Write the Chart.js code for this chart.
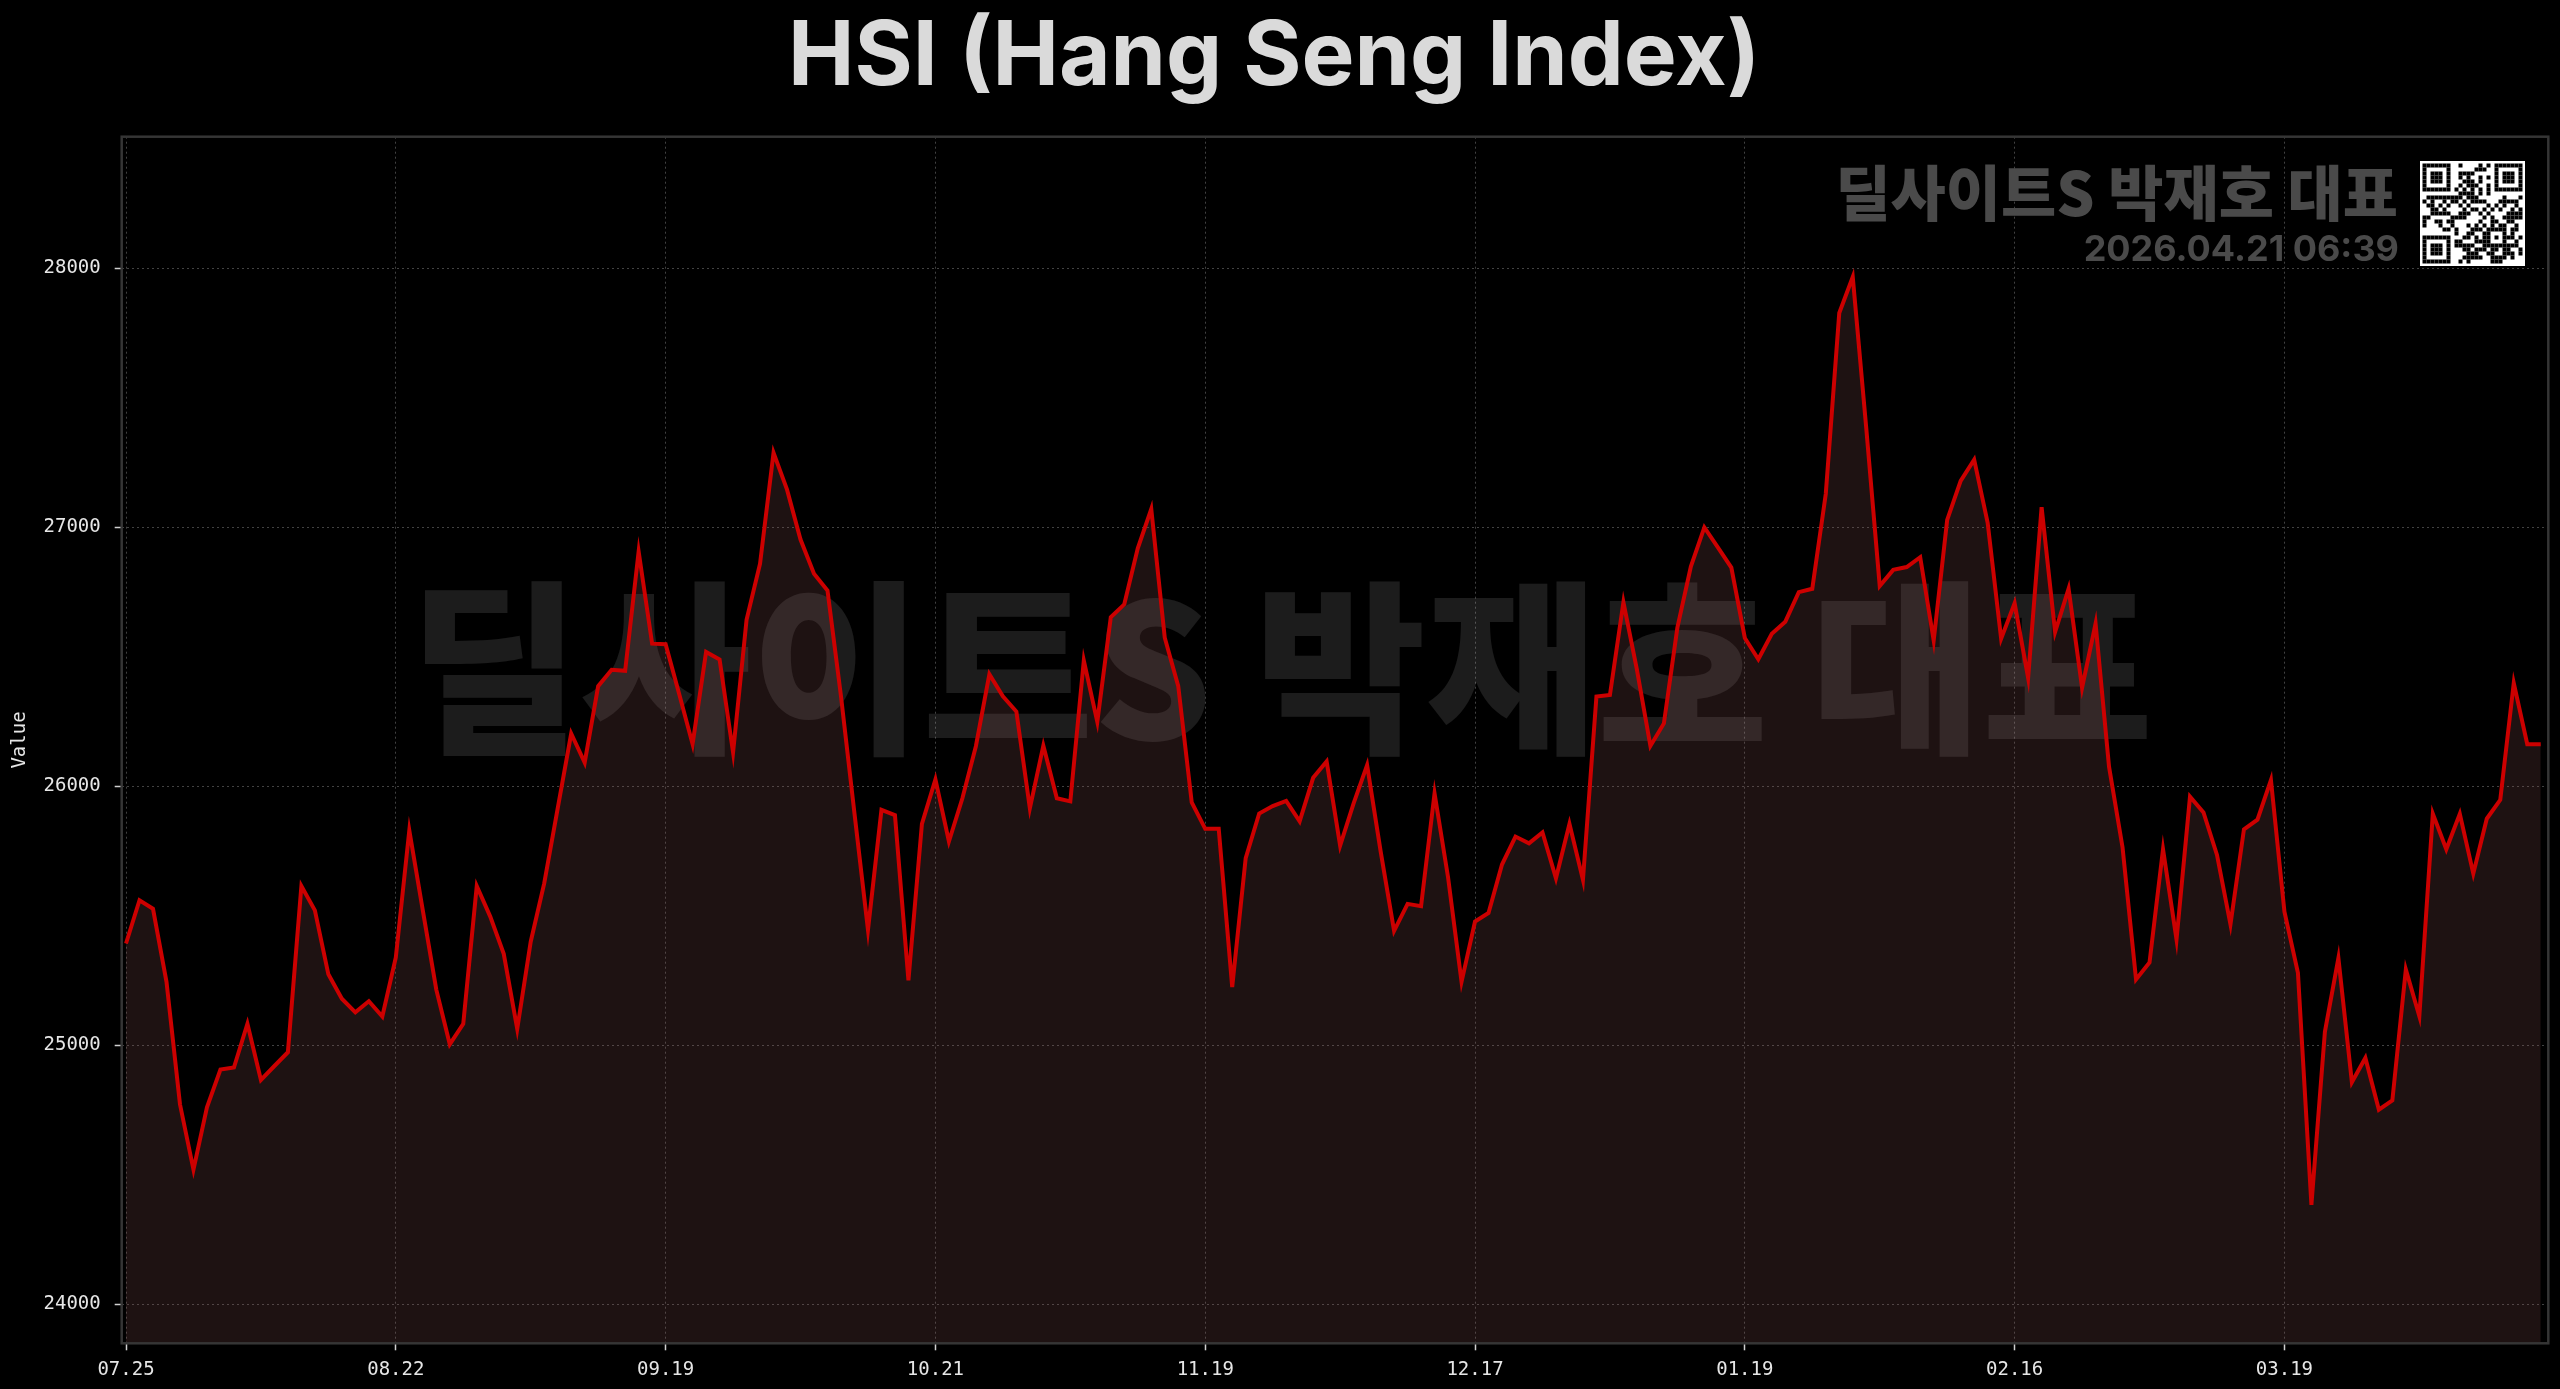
<!DOCTYPE html>
<html>
<head>
<meta charset="utf-8">
<script src="https://cdn.jsdelivr.net/npm/chart.js@4/dist/chart.umd.min.js"></script>
<style>
html,body{margin:0;padding:0;background:#000;overflow:hidden}
#wrap{width:2560px;height:1389px;position:relative}
canvas{display:block}
</style>
</head>
<body>
<div id="wrap"><canvas id="c" width="2560" height="1389"></canvas></div>
<script>
// ---------------- data ----------------
const chartTitle = 'HSI (Hang Seng Index)';
const yAxisTitle = 'Value';
const seriesLabel = 'HSI';
const hsiValues = [
  25393, 25560, 25527, 25245, 24772, 24520, 24760, 24906, 24914, 25083,
  24866, 24920, 24973, 25615, 25521, 25274, 25180, 25127, 25170, 25111,
  25339, 25830, 25521, 25215, 25004, 25083, 25615, 25497, 25353, 25063,
  25400, 25625, 25915, 26204, 26092, 26387, 26450, 26446, 26907, 26551,
  26549, 26358, 26163, 26519, 26490, 26131, 26643, 26860, 27288, 27146,
  26953, 26821, 26756, 26348, 25895, 25446, 25909, 25889, 25251, 25855,
  26027, 25787, 25954, 26155, 26433, 26348, 26289, 25915, 26157, 25954,
  25942, 26486, 26249, 26653, 26703, 26919, 27071, 26574, 26387, 25938,
  25836, 25836, 25225, 25723, 25895, 25924, 25944, 25865, 26033, 26096,
  25771, 25934, 26082, 25750, 25442, 25546, 25537, 25973, 25649, 25245,
  25478, 25511, 25698, 25806, 25780, 25822, 25645, 25855, 25639, 26347,
  26353, 26711, 26451, 26156, 26243, 26613, 26849, 27000, 26923, 26845,
  26573, 26491, 26589, 26636, 26750, 26763, 27129, 27828, 27967, 27384,
  26774, 26836, 26847, 26885, 26563, 27029, 27180, 27262, 27018, 26570,
  26707, 26419, 27078, 26596, 26763, 26381, 26629, 26075, 25764, 25254,
  25320, 25757, 25409, 25960, 25899, 25735, 25467, 25834, 25871, 26024,
  25516, 25280, 24384, 25052, 25337, 24857, 24951, 24751, 24787, 25293,
  25112, 25894, 25757, 25894, 25663, 25875, 25948, 26399, 26163, 26163
];
const xTickIndex  = [0, 20, 40, 60, 80, 100, 120, 140, 160];
const xTickLabels = ['07.25','08.22','09.19','10.21','11.19','12.17','01.19','02.16','03.19'];
const yTickValues = [24000, 25000, 26000, 27000, 28000];
const watermarkText = '딜사이트S 박재호 대표';
const stampText = '2026.04.21 06:39';

// axis ranges
const X_MIN = -0.32, X_MAX = 179.56;
const Y_MIN = 23849, Y_MAX = 28509;

// ---------------- plugins ----------------
const bgPlugin = {
  id: 'bg',
  beforeDraw(chart) {
    const ctx = chart.ctx;
    ctx.save();
    ctx.fillStyle = '#000000';
    ctx.fillRect(0, 0, chart.width, chart.height);
    ctx.restore();
  }
};

const bigWatermark = {
  id: 'bigWatermark',
  beforeDatasetsDraw(chart) {
    const ctx = chart.ctx;
    ctx.save();
    ctx.font = '900 186px "Noto Sans CJK KR"';
    ctx.fillStyle = 'rgba(255,255,255,0.11)';
    ctx.textAlign = 'center';
    ctx.textBaseline = 'middle';
    ctx.fillText(watermarkText, 1281, 668);
    ctx.restore();
  }
};

function qrBit(r, c, n) {
  const inFinder = (r0, c0) => r >= r0 && r < r0 + 7 && c >= c0 && c < c0 + 7;
  const finderBit = (r0, c0) => {
    const rr = r - r0, cc = c - c0;
    if (rr === 0 || rr === 6 || cc === 0 || cc === 6) return 1;
    if (rr >= 2 && rr <= 4 && cc >= 2 && cc <= 4) return 1;
    return 0;
  };
  if (inFinder(0, 0)) return finderBit(0, 0);
  if (inFinder(0, n - 7)) return finderBit(0, n - 7);
  if (inFinder(n - 7, 0)) return finderBit(n - 7, 0);
  if ((r === 7 && (c < 8 || c >= n - 8)) || (c === 7 && (r < 8 || r >= n - 8)) || (c === n - 8 && r < 8) || (r === n - 8 && c < 8)) return 0;
  if (r === 6) return c % 2 === 0 ? 1 : 0;
  if (c === 6) return r % 2 === 0 ? 1 : 0;
  if (r >= 16 && r <= 20 && c >= 16 && c <= 20) {
    const rr = r - 16, cc = c - 16;
    if (rr === 0 || rr === 4 || cc === 0 || cc === 4) return 1;
    return (rr === 2 && cc === 2) ? 1 : 0;
  }
  const h = ((r * 7919 + c * 104729 + r * c * 31) ^ (r * 13 + c * 29)) % 97;
  return (h % 5 < 2 || (r + c) % 7 === 0) ? 1 : 0;
}

const cornerStamp = {
  id: 'cornerStamp',
  afterDraw(chart) {
    const ctx = chart.ctx;
    ctx.save();
    ctx.textAlign = 'right';
    ctx.textBaseline = 'middle';
    ctx.fillStyle = '#4a4a4a';
    ctx.font = '900 60px "Noto Sans CJK KR"';
    ctx.fillText(watermarkText, 2398, 193);
    ctx.font = '700 36px Inter';
    ctx.fillText(stampText, 2399, 250);
    // QR-like badge
    const qx = 2420, qy = 161, qs = 105, n = 25, m = 4;
    ctx.fillStyle = '#ffffff';
    ctx.fillRect(qx, qy, qs, qs);
    ctx.fillStyle = '#000000';
    const off = (qs - n * m) / 2;
    for (let r = 0; r < n; r++) {
      for (let c = 0; c < n; c++) {
        if (qrBit(r, c, n)) ctx.fillRect(qx + off + c * m, qy + off + r * m, m, m);
      }
    }
    ctx.restore();
  }
};

const framePlugin = {
  id: 'frame',
  afterDatasetsDraw(chart) {
    const a = chart.chartArea;
    const ctx = chart.ctx;
    ctx.save();
    ctx.strokeStyle = '#353535';
    ctx.lineWidth = 2.5;
    ctx.strokeRect(a.left, a.top, a.right - a.left, a.bottom - a.top);
    ctx.restore();
  }
};

// ---------------- chart ----------------
const points = hsiValues.map((v, i) => ({ x: i, y: v }));
const monoFont = { family: '"DejaVu Sans Mono", monospace', size: 19 };

new Chart(document.getElementById('c'), {
  type: 'line',
  data: {
    datasets: [{
      label: seriesLabel,
      data: points,
      borderColor: '#cc0000',
      borderWidth: 4,
      backgroundColor: 'rgba(150,90,90,0.2)',
      fill: 'start',
      pointRadius: 0,
      pointHoverRadius: 0,
      tension: 0,
      borderJoinStyle: 'miter'
    }]
  },
  options: {
    responsive: false,
    animation: false,
    devicePixelRatio: 1,
    layout: { padding: { left: 0, right: 11.7, top: 0, bottom: 0 } },
    plugins: {
      legend: { display: false },
      tooltip: { enabled: false },
      title: {
        display: true,
        text: chartTitle,
        color: '#dadada',
        font: { family: 'Inter', size: 89, weight: 'bold', lineHeight: 1 },
        padding: { top: 14, bottom: 33.7 }
      }
    },
    scales: {
      x: {
        type: 'linear',
        min: X_MIN,
        max: X_MAX,
        afterBuildTicks: s => { s.ticks = xTickIndex.map(v => ({ value: v })); },
        afterFit: s => { s.height = 45.7; },
        ticks: {
          color: '#e6e6e6',
          font: monoFont,
          padding: 8,
          autoSkip: false,
          maxRotation: 0,
          minRotation: 0,
          callback: (value) => {
            const k = xTickIndex.indexOf(value);
            return k >= 0 ? xTickLabels[k] : '';
          }
        },
        grid: {
          color: 'rgba(255,255,255,0.26)',
          lineWidth: 1,
          drawTicks: true,
          tickLength: 7,
          tickWidth: 1.5,
          tickColor: '#d0d0d0'
        },
        border: { display: false, dash: [2, 3] }
      },
      y: {
        type: 'linear',
        min: Y_MIN,
        max: Y_MAX,
        afterBuildTicks: s => { s.ticks = yTickValues.map(v => ({ value: v })); },
        afterFit: s => { s.width = 121.7; },
        ticks: {
          color: '#e6e6e6',
          font: monoFont,
          padding: 14,
          callback: v => String(v)
        },
        grid: {
          color: 'rgba(255,255,255,0.26)',
          lineWidth: 1,
          drawTicks: true,
          tickLength: 7,
          tickWidth: 1.5,
          tickColor: '#d0d0d0'
        },
        border: { display: false, dash: [2, 3] },
        title: {
          display: true,
          text: yAxisTitle,
          color: '#e6e6e6',
          font: monoFont,
          padding: { top: 8.6, bottom: 0 }
        }
      }
    }
  },
  plugins: [bgPlugin, bigWatermark, framePlugin, cornerStamp]
});
</script>
</body>
</html>
